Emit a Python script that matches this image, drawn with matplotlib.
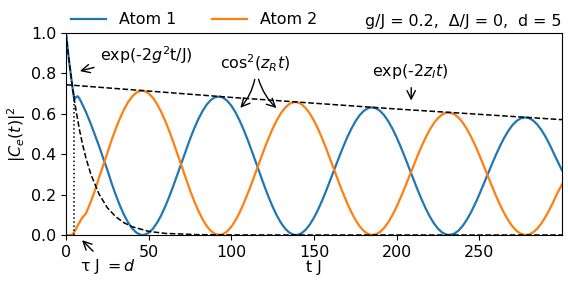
import matplotlib
matplotlib.use("Agg")
from matplotlib import pyplot as plt

# 时间点 (t J)
t = [0, 1, 2, 3, 4, 5, 6, 7, 8, 10, 12, 15, 17.5, 20, 22.5, 25,
     27.5, 30, 32.5, 35, 37.5, 40, 42.5, 45, 46, 47.5, 50,
     52.5, 55, 57.5, 60, 62.5, 65, 67.5, 70, 72.5, 75,
     77.5, 80, 82.5, 85, 87.5, 90, 93, 95, 97.5, 100,
     102.5, 105, 107.5, 110, 112.5, 115, 117.5, 120, 122.5, 125,
     127.5, 130, 132.5, 135, 137.5, 139, 140, 142.5, 145, 147.5, 150,
     152.5, 155, 157.5, 160, 162.5, 165, 167.5, 170, 172.5, 175,
     177.5, 180, 182.5, 185, 187.5, 190, 192.5, 195, 197.5, 200,
     202.5, 205, 207.5, 210, 212.5, 215, 217.5, 220, 222.5, 225,
     227.5, 230, 232, 235, 237.5, 240, 242.5, 245, 247.5, 250,
     252.5, 255, 257.5, 260, 262.5, 265, 267.5, 270, 272.5, 275,
     278, 280, 282.5, 285, 287.5, 290, 292.5, 295, 297.5, 300]

atom1 = [1.0, .923, .852, .787, .726, .672, .682, .687, .678, .645, .61, .55, .495, .44, .38, .323,
         .2582, .2006, .1479, .1016, .0628, .0328, .0121, .0015, .0001, .0011, .0108,
         .0304, .0593, .0963, .1406, .1907, .2452, .3026, .3610, .4189, .4745,
         .5263, .5727, .6124, .6444, .6677, .6816, .6854, .6800, .6648, .6403,
         .6074, .5670, .5202, .4685, .4132, .3560, .2985, .2422, .1889, .1399,
         .0967, .0604, .0320, .0124, .0018, .0, .0007, .0090, .0263, .0522, .0859,
         .1261, .1720, .2220, .2747, .3285, .3819, .4333, .4814, .5244, .5617,
         .5918, .6138, .6273, .6319, .6275, .6141, .5922, .5624, .5256, .4831,
         .4357, .3849, .3323, .2792, .2272, .1779, .1324, .0920, .0581, .0313,
         .0125, .0021, .0, .0074, .0227, .0459, .0764, .1130, .1549, .2008,
         .2492, .2988, .3481, .3957, .4402, .4805, .5151, .5434, .5643, .5774,
         .5820, .5788, .5671, .5476, .5206, .4872, .4483, .4050, .362, .32]

atom2 = [0.0, 0.0, 0.0, 0.0, .004, .015, .03, .045, .06, .088, .105, .165, .22, .285, .345, .405,
         .4680, .5240, .5751, .6198, .6570, .6854, .7045, .7135, .7143, .7124, .7011,
         .6799, .6495, .6109, .5651, .5134, .4574, .3984, .3385, .2791, .2219,
         .1686, .1207, .0794, .0459, .0211, .0057, .0001, .0042, .0179, .0409,
         .0723, .1112, .1565, .2067, .2605, .3162, .3722, .4271, .4789, .5264,
         .5681, .6030, .6299, .6481, .6572, .6582, .6569, .6471, .6284, .6010, .5659,
         .5243, .4770, .4255, .3714, .3162, .2614, .2085, .1590, .1146, .0759,
         .0444, .0210, .0061, .0001, .0032, .0152, .0357, .0641, .0995, .1406,
         .1867, .2361, .2874, .3391, .3897, .4376, .4818, .5208, .5534, .5788,
         .5963, .6053, .6063, .5974, .5808, .5562, .5244, .4865, .4433, .3960,
         .3463, .2954, .2448, .1959, .1501, .1085, .0726, .0430, .0208, .0064,
         .0, .0024, .0129, .0311, .0568, .0889, .1265, .1686, .212, .25]

# exp(-2g^2 t/J) 虚线
t_fast = [0, 2, 4, 6, 8, 10, 12, 15, 20, 25, 30, 35, 40, 50, 60, 80, 100, 150, 300]
fast = [1.0, .852, .726, .619, .527, .449, .383, .301, .202, .135, .091, .061,
        .041, .018, .008, .0017, .0003, 0.0, 0.0]

# exp(-2 z_I t) 包络线
t_env = [0, 100, 200, 300]
env = [.744, .6812, .6237, .571]

tau = 5
fs = 11.4

plt.figure(figsize=(5.68, 2.83), dpi=100)
ax = plt.axes([0.1162, 0.1696, 0.8732, 0.7138])
ax.plot(t, atom1, color="#1f77b4", lw=1.6, label="Atom 1")
ax.plot(t, atom2, color="#ff7f0e", lw=1.6, label="Atom 2")
ax.plot(t_fast, fast, "k--", lw=1.1)
ax.plot(t_env, env, "k--", lw=1.1)
ax.plot([tau, tau], [0, 0.7], "k:", lw=1.1)

ax.set_xlim(0, 300)
ax.set_ylim(0, 1)
ax.set_xticks([0, 50, 100, 150, 200, 250])
ax.set_yticks([0, 0.2, 0.4, 0.6, 0.8, 1.0])
ax.tick_params(labelsize=fs)
ax.set_xlabel("t J", fontsize=fs, labelpad=0)
ax.set_ylabel("$|C_e(t)|^2$", fontsize=fs, labelpad=2)

ax.legend(loc="lower left", bbox_to_anchor=(0.007, 1.02), ncol=2, frameon=False,
          fontsize=fs, handlelength=2.2, columnspacing=2.3, borderaxespad=0,
          borderpad=0.1)
ax.set_title("g/J = 0.2,  Δ/J = 0,  d = 5", loc="right", fontsize=fs, pad=5)

arr = dict(arrowstyle="->", color="k", lw=1, mutation_scale=15)
ax.annotate("", xy=(6.8, 0.808), xytext=(18.6, 0.833), arrowprops=arr)
ax.text(20.6, 0.89, "exp(-2$g^2$t/J)", fontsize=fs, va="center")

ax.text(114.4, 0.85, "cos$^2$($z_R t$)", fontsize=fs, ha="center", va="center")
ax.annotate("", xy=(104.3, 0.619), xytext=(114.5, 0.784),
            arrowprops=dict(arr, connectionstyle="arc3,rad=-0.15"))
ax.annotate("", xy=(128.5, 0.619), xytext=(116.0, 0.784),
            arrowprops=dict(arr, connectionstyle="arc3,rad=0.15"))

ax.text(208.5, 0.81, "exp(-2$z_I t$)", fontsize=fs, ha="center", va="center")
ax.annotate("", xy=(208.8, 0.652), xytext=(208.8, 0.743), arrowprops=arr)

ax.annotate("", xy=(8.5, -0.016), xytext=(17.6, -0.09), arrowprops=arr,
            annotation_clip=False)
ax.text(8.5, -0.155, "τ J $= d$", fontsize=fs, va="center")

plt.savefig("out.png", dpi=100)
